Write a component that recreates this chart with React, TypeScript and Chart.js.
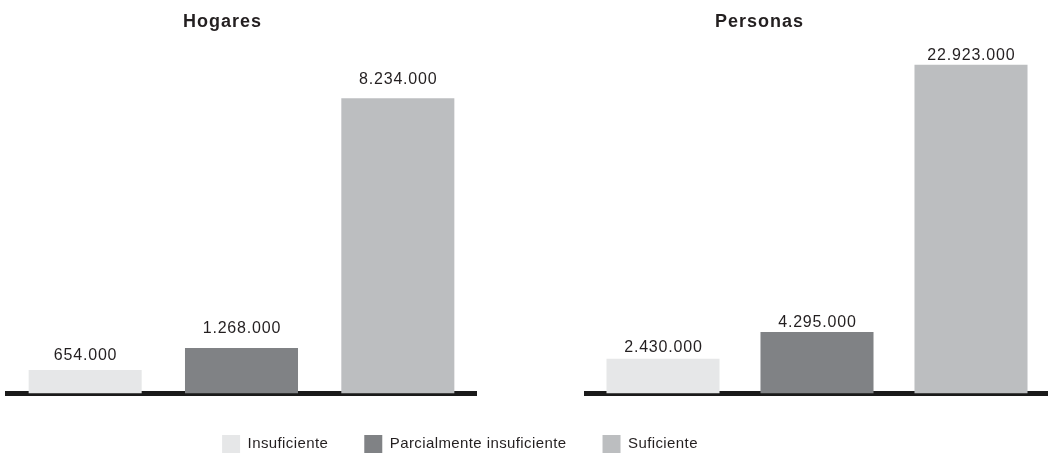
import React, { useEffect, useRef } from 'react';
import { Chart, registerables } from 'chart.js';

Chart.register(...registerables);

// ---- data ----
const categories = ['Insuficiente', 'Parcialmente insuficiente', 'Suficiente'];
const hogaresValues = [654000, 1268000, 8234000];
const personasValues = [2430000, 4295000, 22923000];
const panelTitles = ['Hogares', 'Personas'];
const hogaresAxisMax = 10000000;
const personasAxisMax = 25000000;

// ---- styles ----
const FONT = '"Liberation Sans", Arial, Helvetica, sans-serif';
const TEXT_COLOR = '#231f20';
const barColors = ['#e6e7e8', '#808285', '#bcbec0'];
const labelGapsHogares = [10, 15, 14];
const labelGapsPersonas = [7, 5, 5];

const fmt = (v: number) => String(v).replace(/\B(?=(\d{3})+(?!\d))/g, '.');

const decorPlugin = {
  id: 'panelDecor',
  afterDatasetsDraw(chart: any, _args: any, opts: any) {
    const ctx = chart.ctx as any;
    const meta = chart.getDatasetMeta(0);
    ctx.save();
    ctx.fillStyle = TEXT_COLOR;
    ctx.textAlign = 'center';
    ctx.textBaseline = 'alphabetic';
    ctx.font = `16px ${FONT}`;
    ctx.letterSpacing = '0.8px';
    meta.data.forEach((bar: any, i: number) => {
      const v = chart.data.datasets[0].data[i] as number;
      ctx.fillText(fmt(v), bar.x + 0.4, bar.y - (opts.gaps?.[i] ?? 8));
    });
    ctx.font = `bold 18px ${FONT}`;
    ctx.letterSpacing = '1px';
    ctx.fillText(opts.title, opts.titleX + 0.5, 27);
    ctx.letterSpacing = '0px';
    ctx.restore();
  },
};

const legendSpacingPlugin = {
  id: 'legendSpacing',
  beforeUpdate(chart: any) {
    (chart.ctx as any).letterSpacing = '0.4px';
  },
  beforeDraw(chart: any) {
    (chart.ctx as any).letterSpacing = '0.4px';
  },
};

function makePanel(
  canvas: HTMLCanvasElement,
  values: number[],
  max: number,
  title: string,
  titleX: number,
  gaps: number[],
  padLeft: number,
  padRight: number,
  barPct: number
) {
  return new Chart(canvas, {
    type: 'bar',
    data: {
      labels: categories,
      datasets: [
        {
          label: title,
          data: values,
          backgroundColor: barColors,
          borderWidth: 0,
          barPercentage: barPct,
          categoryPercentage: 1,
        },
      ],
    },
    options: {
      responsive: false,
      animation: false,
      layout: { padding: { left: padLeft, right: padRight, top: 35, bottom: 6.5 } },
      scales: {
        x: {
          display: true,
          grid: { display: false, drawTicks: false },
          ticks: { display: false },
          border: { display: true, color: '#1a1a1a', width: 5 },
        },
        y: { display: false, min: 0, max },
      },
      plugins: {
        legend: { display: false },
        tooltip: { enabled: false },
        panelDecor: { title, titleX, gaps },
      } as any,
    },
    plugins: [decorPlugin],
  });
}

export default function App() {
  const leftRef = useRef<HTMLCanvasElement>(null);
  const rightRef = useRef<HTMLCanvasElement>(null);
  const legendRef = useRef<HTMLCanvasElement>(null);

  useEffect(() => {
    const left = makePanel(leftRef.current!, hogaresValues, hogaresAxisMax, panelTitles[0], 222, labelGapsHogares, 7, 4, 0.723);
    const right = makePanel(rightRef.current!, personasValues, personasAxisMax, panelTitles[1], 199, labelGapsPersonas, 26, 0, 0.734);
    const legend = new Chart(legendRef.current!, {
      type: 'bar',
      data: {
        labels: ['a'],
        datasets: categories.map((c, i) => ({
          label: c,
          data: [] as number[],
          backgroundColor: barColors[i],
          borderWidth: 0,
        })),
      },
      options: {
        responsive: false,
        animation: false,
        layout: { padding: 0 },
        scales: { x: { display: false }, y: { display: false } },
        plugins: {
          tooltip: { enabled: false },
          legend: {
            display: true,
            position: 'top',
            align: 'center',
            labels: {
              boxWidth: 18,
              boxHeight: 18,
              padding: 36,
              color: TEXT_COLOR,
              font: { size: 15, family: FONT },
            },
          },
        },
      },
      plugins: [legendSpacingPlugin],
    });
    return () => {
      left.destroy();
      right.destroy();
      legend.destroy();
    };
  }, []);

  return (
    <div style={{ position: 'fixed', left: 0, top: 0, width: 1048, height: 456, background: '#fff', overflow: 'hidden' }}>
      <canvas ref={leftRef} width={480} height={400} style={{ position: 'absolute', left: 0, top: 0 }} />
      <canvas ref={rightRef} width={488} height={400} style={{ position: 'absolute', left: 560, top: 0 }} />
      <canvas ref={legendRef} width={880} height={200} style={{ position: 'absolute', left: 20, top: 399 }} />
    </div>
  );
}
